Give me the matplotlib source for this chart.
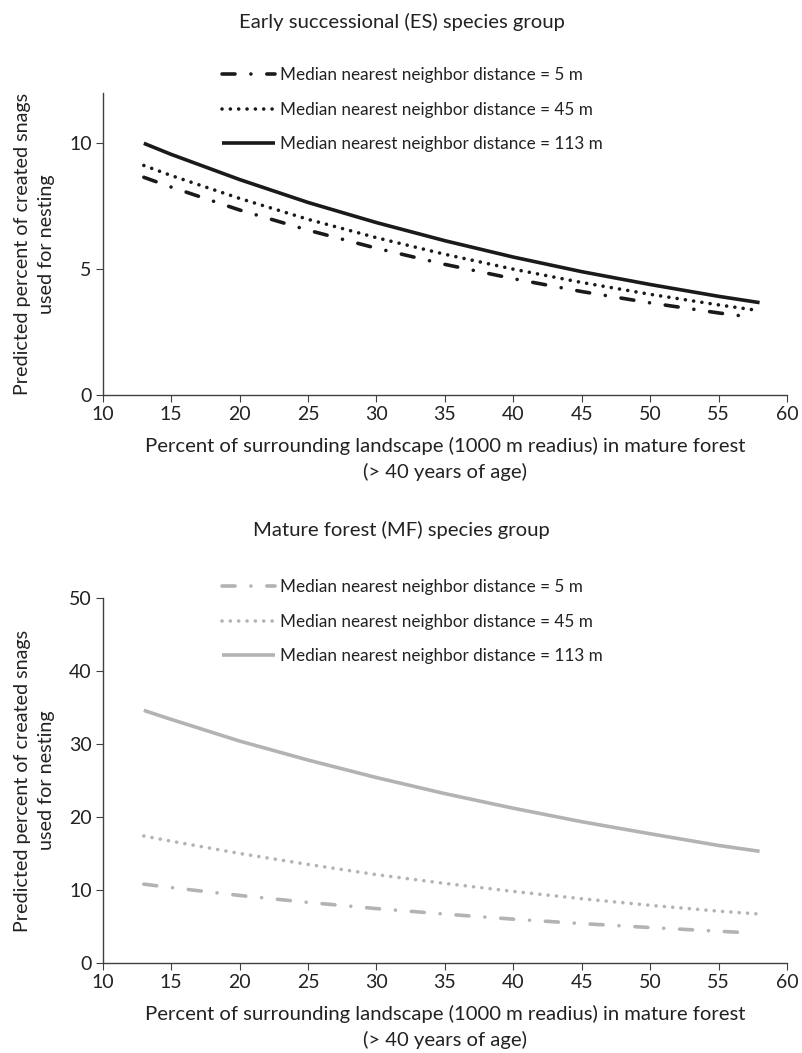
import numpy as np
import matplotlib.pyplot as plt
from matplotlib.lines import Line2D

plt.rcParams['font.family'] = ['Lato', 'DejaVu Sans']

x_full = [13, 15, 20, 25, 30, 35, 40, 45, 50, 55, 58]
x_short = [13, 15, 20, 25, 30, 35, 40, 45, 50, 55, 57]

es_5 = [8.65, 8.26, 7.35, 6.55, 5.83, 5.19, 4.62, 4.11, 3.66, 3.26, 3.12]
es_45 = [9.12, 8.72, 7.81, 6.98, 6.25, 5.59, 5.00, 4.47, 4.00, 3.58, 3.35]
es_113 = [10.0, 9.56, 8.56, 7.65, 6.85, 6.13, 5.48, 4.90, 4.39, 3.92, 3.67]

mf_5 = [10.8, 10.33, 9.25, 8.3, 7.45, 6.7, 6.0, 5.4, 4.85, 4.35, 4.15]
mf_45 = [17.4, 16.68, 15.0, 13.5, 12.1, 10.9, 9.8, 8.8, 7.9, 7.1, 6.7]
mf_113 = [34.6, 33.37, 30.4, 27.8, 25.4, 23.2, 21.2, 19.35, 17.7, 16.1, 15.3]

labels = ['Median nearest neighbor distance = 5 m',
          'Median nearest neighbor distance = 45 m',
          'Median nearest neighbor distance = 113 m']

xlabel = 'Percent of surrounding landscape (1000 m readius) in mature forest\n(> 40 years of age)'
ylabel = 'Predicted percent of created snags\nused for nesting'

dashdot = (0, (3.6, 4.4, 0.01, 4.4))
dotted = (0, (0.01, 2.3))

fig = plt.figure(figsize=(8.03, 10.53), dpi=100)
ax1 = fig.add_axes([0.128, 0.6249, 0.852, 0.2868])
ax2 = fig.add_axes([0.128, 0.0855, 0.852, 0.3466])


def draw_panel(ax, ys, color, ymax, yticks, title, title_y, leg_y):
    lw = 2.6
    styles = [dashdot, dotted, '-']
    xs = [x_short, x_full, x_full]
    handles = []
    for x, y, ls, lab in zip(xs, ys, styles, labels):
        ln, = ax.plot(x, y, color=color, lw=lw, linestyle=ls,
                      dash_capstyle='round', solid_capstyle='butt', label=lab)
        handles.append(ln)
    ax.set_xlim(10, 60)
    ax.set_ylim(0, ymax)
    ax.set_xticks(range(10, 61, 5))
    ax.set_yticks(yticks)
    for s in ['top', 'right']:
        ax.spines[s].set_visible(False)
    for s in ['left', 'bottom']:
        ax.spines[s].set_color('#404040')
        ax.spines[s].set_linewidth(1.0)
    ax.tick_params(direction='out', length=5, color='#404040', labelsize=14,
                   labelcolor='#222222', pad=3)
    ax.set_xlabel(xlabel, fontsize=14.6, color='#222222', linespacing=1.5, labelpad=10)
    ax.set_ylabel(ylabel, fontsize=14.2, color='#222222', linespacing=1.5, labelpad=10)
    fig.text(0.5, title_y, title, ha='center', va='center', fontsize=14.6, color='#222222')
    ax.legend(handles=handles, loc='upper left', bbox_to_anchor=(0.268, leg_y),
              bbox_transform=fig.transFigure, frameon=False, fontsize=12.3,
              handlelength=3.1, handletextpad=0.3, labelspacing=1.1,
              labelcolor='#222222', borderaxespad=0)


draw_panel(ax1, [es_5, es_45, es_113], '#1a1a1a', 12, [0, 5, 10],
           'Early successional (ES) species group', 1 - 22 / 1053, 1 - 60 / 1053)
draw_panel(ax2, [mf_5, mf_45, mf_113], '#b3b3b3', 50, [0, 10, 20, 30, 40, 50],
           'Mature forest (MF) species group', 1 - 530 / 1053, 1 - 572 / 1053)

fig.savefig('out.png', dpi=100)
